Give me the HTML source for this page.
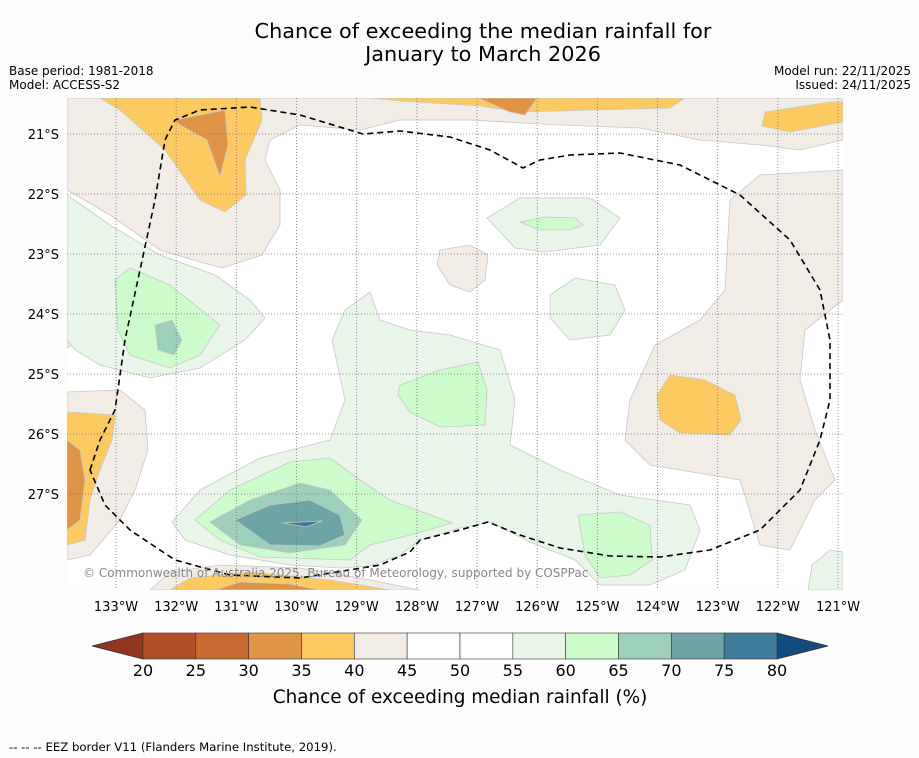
<!DOCTYPE html>
<html><head><meta charset="utf-8"><style>
body{margin:0;background:#fdfdfd;font-family:"DejaVu Sans","Liberation Sans",sans-serif;}
svg{display:block}
</style></head><body>
<svg width="919" height="758" viewBox="0 0 919 758" font-family="DejaVu Sans, Liberation Sans, sans-serif">
<rect x="0" y="0" width="919" height="758" fill="#fdfdfd"/>
<text x="483" y="38" font-size="20.8" text-anchor="middle">Chance of exceeding the median rainfall for</text>
<text x="483" y="61" font-size="20.8" text-anchor="middle">January to March 2026</text>
<text x="9" y="75" font-size="12">Base period: 1981-2018</text>
<text x="9" y="89" font-size="12">Model: ACCESS-S2</text>
<text x="911" y="75" font-size="12" text-anchor="end">Model run: 22/11/2025</text>
<text x="911" y="89" font-size="12" text-anchor="end">Issued: 24/11/2025</text>

<defs><clipPath id="mc"><rect x="67" y="98" width="776" height="492"/></clipPath></defs>
<g clip-path="url(#mc)" stroke="#c8c8c8" stroke-width="0.8">
<rect x="67" y="98" width="776" height="492" fill="#ffffff" stroke="none"/>
<polygon fill="#f1ede6" points="67,98 843,98 843,140 800,150 760,145 700,140 640,128 560,125 470,120 400,120 360,130 300,125 270,140 265,160 280,190 280,225 262,255 222,268 200,262 160,250 110,215 67,190"/>
<polygon fill="#f1ede6" points="843,170 843,300 805,330 800,380 815,430 835,480 815,500 790,550 760,545 740,480 650,465 625,440 630,400 655,345 700,320 725,290 730,200 760,175"/>
<polygon fill="#f1ede6" points="440,250 470,245 488,255 485,280 470,292 450,285 437,265"/>
<polygon fill="#f1ede6" points="67,392 120,390 145,410 148,450 135,490 120,520 90,555 67,560"/>
<polygon fill="#f1ede6" points="150,590 170,572 220,565 300,568 360,578 420,590"/>
<polygon fill="#f1ede6" points="67,270 75,275 78,310 72,345 67,348"/>
<polygon fill="#e9f5e9" points="67,195 110,225 160,255 215,275 250,300 265,318 245,340 200,368 150,378 100,365 75,350 67,340"/>
<polygon fill="#e9f5e9" points="172,522 200,490 260,458 330,440 345,400 332,340 345,310 370,292 380,320 410,330 450,335 500,350 515,400 510,445 560,470 620,495 690,505 700,530 685,570 650,585 600,585 575,560 530,542 490,522 460,528 420,540 400,555 370,566 340,568 290,565 230,555 185,540"/>
<polygon fill="#e9f5e9" points="487,218 520,198 590,198 620,218 600,245 545,252 515,248"/>
<polygon fill="#e9f5e9" points="550,295 575,278 615,285 625,310 610,335 570,340 550,318"/>
<polygon fill="#e9f5e9" points="808,590 812,565 830,550 843,552 843,590"/>
<polygon fill="#ccfccc" points="115,280 130,268 170,285 220,325 200,355 170,368 130,355 118,330"/>
<polygon fill="#ccfccc" points="400,385 440,370 478,362 487,390 485,425 440,427 410,412 398,395"/>
<polygon fill="#ccfccc" points="520,222 545,217 575,218 583,225 570,230 540,230"/>
<polygon fill="#ccfccc" points="195,520 230,490 290,462 330,458 360,480 390,500 452,523 410,535 370,545 350,560 260,557 220,540"/>
<polygon fill="#ccfccc" points="578,515 620,512 650,525 652,560 630,575 600,578 585,555"/>
<polygon fill="#9dcfba" points="155,325 172,320 182,340 174,355 158,350"/>
<polygon fill="#9dcfba" points="210,522 250,500 300,483 330,490 362,520 345,545 290,553 240,545"/>
<polygon fill="#6fa4a6" points="235,520 270,505 310,500 340,515 345,535 320,546 270,545"/>
<polygon fill="#3f7b98" points="283,523 322,521 306,527"/>
<polygon fill="#fdca62" points="100,98 260,98 262,120 245,160 246,195 225,212 200,200 165,150 120,110"/>
<polygon fill="#fdca62" points="370,98 685,98 670,108 520,112 480,106 400,101"/>
<polygon fill="#fdca62" points="765,112 830,102 843,102 843,122 790,132 762,126"/>
<polygon fill="#fdca62" points="670,375 705,380 735,395 741,420 730,435 680,433 660,420 657,395"/>
<polygon fill="#fdca62" points="67,412 115,415 112,440 100,470 90,500 85,540 67,545"/>
<polygon fill="#fdca62" points="170,590 190,578 250,572 330,580 390,590"/>
<polygon fill="#e09445" points="175,120 225,110 228,145 220,177 207,140 180,125"/>
<polygon fill="#e09445" points="478,98 537,98 525,115 510,112"/>
<polygon fill="#e09445" points="67,440 80,450 85,480 80,520 67,530"/>
<polygon fill="#e09445" points="215,590 240,582 290,584 320,590"/>
</g>
<g id="grid" stroke="#777" stroke-width="0.8" stroke-dasharray="1,2"></g>
<path fill="none" stroke="#000" stroke-width="1.6" stroke-dasharray="6,4" d="M90,470 L100,440 115,410 125,340 140,270 155,200 165,140 175,120 200,110 250,107 300,115 363,134 400,131 450,137 490,150 523,168 540,160 570,155 620,153 680,165 740,195 790,240 820,290 830,340 830,400 820,440 800,490 760,530 710,550 660,557 610,556 560,548 520,535 488,522 460,530 420,540 410,552 380,565 300,578 230,575 175,560 130,530 105,505 Z"/>
<text x="83" y="577" font-size="12" fill="#888">© Commonwealth of Australia 2025, Bureau of Meteorology, supported by COSPPac</text>
<g id="xlab" font-size="13" text-anchor="middle"></g>
<g id="ylab" font-size="13" text-anchor="end"></g>
<g id="cbar"></g>
<text x="460" y="703" font-size="18.4" text-anchor="middle">Chance of exceeding median rainfall (%)</text>
<text x="9" y="751" font-size="11.7">--  --  -- EEZ border V11 (Flanders Marine Institute, 2019).</text>
</svg>
<script>
const lonTicks=[133,132,131,130,129,128,127,126,125,124,123,122,121];
const latTicks=[21,22,23,24,25,26,27];
const cbTicks=[20,25,30,35,40,45,50,55,60,65,70,75,80];
const cbColors=["#b24e29","#c96a35","#e09445","#fdca62","#f1ede6","#ffffff","#ffffff","#e9f5e9","#ccfccc","#9dcfba","#6fa4a6","#3f7b98"];
const NS="http://www.w3.org/2000/svg";
const xLon=l=>116+(133-l)*60.17;
const yLat=l=>134+(l-21)*60;
const xCb=v=>143+(v-20)*(777-143)/60;
function mk(t,a){const e=document.createElementNS(NS,t);for(const k in a)e.setAttribute(k,a[k]);return e;}
const grid=document.getElementById('grid'),xl=document.getElementById('xlab'),yl=document.getElementById('ylab'),cb=document.getElementById('cbar');
lonTicks.forEach(l=>{const x=xLon(l);
const ln=mk('line',{x1:x,y1:98,x2:x,y2:590});


grid.appendChild(ln);
const t=mk('text',{x:x,y:611});t.textContent=l+'°W';


xl.appendChild(t);});
latTicks.forEach(l=>{const y=yLat(l);
const ln=mk('line',{x1:67,y1:y,x2:843,y2:y});


grid.appendChild(ln);
const t=mk('text',{x:59,y:y+5});t.textContent=l+'°S';


yl.appendChild(t);});
const lo=mk('polygon',{points:`92,646 ${xCb(20)},633 ${xCb(20)},659`,fill:'#8f3520',stroke:'#333','stroke-width':0.8});


cb.appendChild(lo);
const hi=mk('polygon',{points:`828,646 ${xCb(80)},633 ${xCb(80)},659`,fill:'#144c82',stroke:'#333','stroke-width':0.8});


cb.appendChild(hi);
cbColors.forEach((c,i)=>{const x0=xCb(cbTicks[i]),x1=xCb(cbTicks[i+1]);
const r=mk('rect',{x:x0,y:633,width:x1-x0,height:26,fill:c,stroke:'#333','stroke-width':0.6});


cb.appendChild(r);});
cbTicks.forEach(v=>{const t=mk('text',{x:xCb(v),y:676,'font-size':16,'text-anchor':'middle'});t.textContent=v;


cb.appendChild(t);});
</script>
</body></html>
